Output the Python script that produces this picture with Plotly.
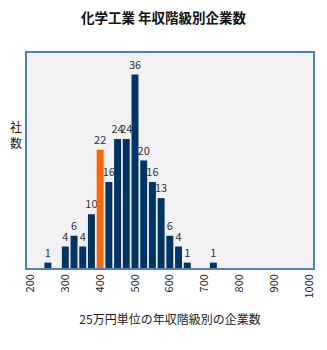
import plotly.graph_objects as go

bins = [250, 300, 325, 350, 375, 400, 425, 450, 475, 500, 525, 550, 575, 600, 625, 650, 725]
counts = [1, 4, 6, 4, 10, 22, 16, 24, 24, 36, 20, 16, 13, 6, 4, 1, 1]
highlight = 400
tick_vals = [200, 300, 400, 500, 600, 700, 800, 900, 1000]

colors = ["#FF6600" if b == highlight else "#003366" for b in bins]

FONT = "Noto Sans CJK JP"

fig = go.Figure(go.Bar(
    x=bins, y=counts, marker=dict(color=colors, line=dict(width=0)),
    text=[str(c) for c in counts], textposition="outside",
    textfont=dict(size=11, color="#333333", family=FONT),
    cliponaxis=False,
))

fig.update_layout(
    width=327, height=350,
    margin=dict(l=27, r=14, t=53, b=82),
    paper_bgcolor="white", plot_bgcolor="#F2F2F2",
    bargap=0.2,
    uniformtext=dict(minsize=11, mode="show"),
    font=dict(family=FONT, color="#222222"),
    title=dict(text="<b>化学工業 年収階級別企業数</b>", x=0.5, xanchor="center",
               y=1 - 18 / 350, yanchor="middle", font=dict(size=13.5, color="#111111")),
    showlegend=False,
    xaxis=dict(range=[190, 1011], tickvals=tick_vals, ticktext=[str(v) for v in tick_vals],
               tickangle=-90, tickfont=dict(size=11, color="#222222"),
               showgrid=False, zeroline=False, showline=True, linecolor="#4F81BD",
               linewidth=1.5, mirror=True, ticks="",
               title=dict(text="25万円単位の年収階級別の企業数", font=dict(size=12), standoff=18)),
    yaxis=dict(range=[0, 40], showticklabels=False, showgrid=False, zeroline=False,
               showline=True, linecolor="#4F81BD", linewidth=1.5, mirror=True, ticks=""),
    annotations=[dict(text="社<br>数", x=-0.038, y=0.619, xref="paper", yref="paper",
                      showarrow=False, font=dict(size=12, color="#222222"),
                      xanchor="center", yanchor="middle")],
)

fig.write_html("out.html")
